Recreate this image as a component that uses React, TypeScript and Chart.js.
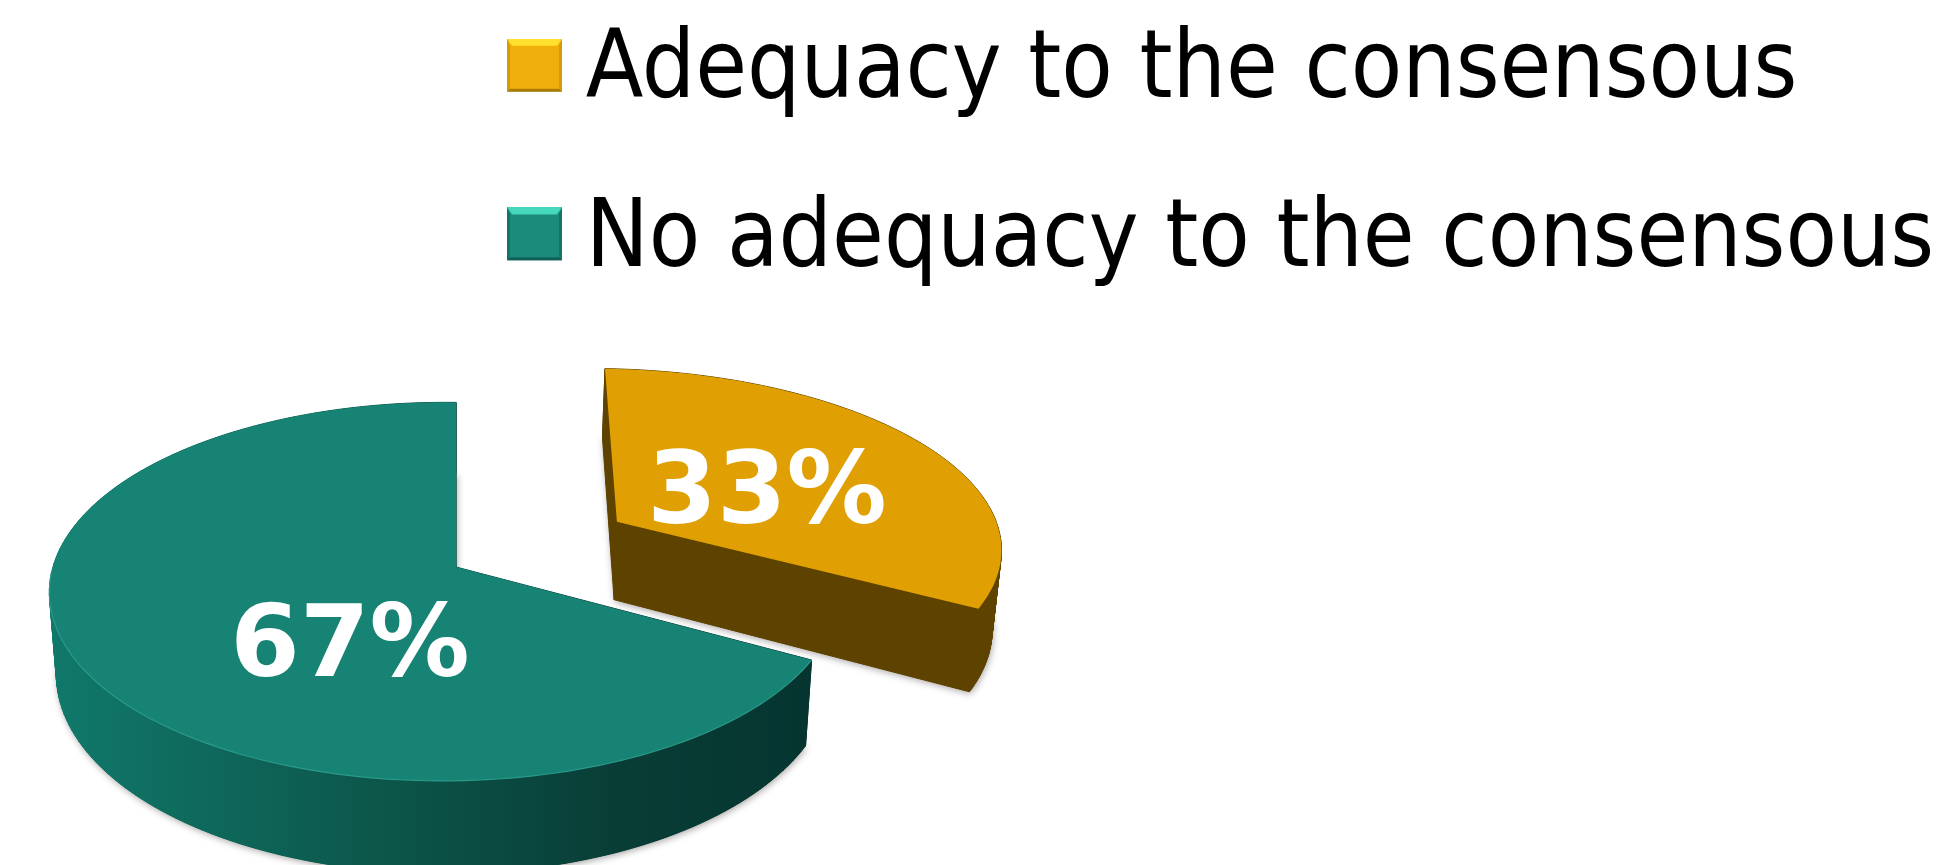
import React, { useEffect, useRef } from "react";
import { Chart, registerables } from "chart.js";

Chart.register(...registerables);

const categories = ["Adequacy to the consensous", "No adequacy to the consensous"];
const shareValues = [33, 67];
const topColors = ["#E0A003", "#178374"];
const sideColors = ["#5E4300", "#0A4A40"];
const legendColors = [
  { base: "#F0AE0C", top: "#FFE02E", edge: "#D49A08", bottom: "#A87A08" },
  { base: "#1B8B7B", top: "#45D8BE", edge: "#147567", bottom: "#0E5F57" },
];
const labelSpots = [
  { x: 767, y: 523 },
  { x: 350, y: 676 },
];

const APEX = { x: 456, y: 567 };
const B = 391, A = 186, K = 0.13, M = 0.03, DEPTH = 80.5, DEPTH_X = 0.983;
const EXPLODE = [0.5, 0];
const STRETCH_U = [1.06, 1];
const SHEAR_U = [0.018, 0];
const LEGEND_FONT = 93.6;

function project(u: number, v: number, bottom: boolean) {
  const d = 1 + K * v + M * u;
  const sx = bottom ? DEPTH_X : 1;
  return {
    x: APEX.x + (sx * B * u) / d,
    y: APEX.y - (A * v) / d + (bottom ? DEPTH / (1 + K * v) : 0),
  };
}

function bevelBox(c: { base: string; top: string; edge: string; bottom: string }) {
  const cv = document.createElement("canvas");
  const w = 55, h = 53, b = 5;
  cv.width = w;
  cv.height = h + 15;
  const g = cv.getContext("2d")!;
  g.fillStyle = c.base;
  g.fillRect(0, 0, w, h);
  const poly = (pts: number[][], fill: string) => {
    g.fillStyle = fill;
    g.beginPath();
    pts.forEach(([x, y], i) => (i ? g.lineTo(x, y) : g.moveTo(x, y)));
    g.closePath();
    g.fill();
  };
  poly([[0, 0], [w, 0], [w - b, b + 2], [b, b + 2]], c.top);
  poly([[0, 0], [b - 2, b + 2], [b - 2, h - 3], [0, h]], c.edge);
  poly([[w, 0], [w - b + 2, b + 2], [w - b + 2, h - 3], [w, h]], c.edge);
  poly([[0, h], [b - 2, h - 3], [w - b + 2, h - 3], [w, h]], c.bottom);
  return cv;
}

const pie3d = {
  id: "pie3d",
  afterLayout(chart: any) {
    chart.legend.left = 455;
    chart.legend.top = -49;
  },
  beforeDatasetDraw(chart: any, args: any) {
    const ctx = chart.ctx;
    const meta = chart.getDatasetMeta(args.index);
    const order = [0, 1];
    order.forEach((i) => {
      const arc = meta.data[i];
      const { startAngle, endAngle } = arc.getProps(["startAngle", "endAngle"], true);
      const mid = (startAngle + endAngle) / 2;
      const ox = Math.cos(mid) * EXPLODE[i];
      const oy = -Math.sin(mid) * EXPLODE[i];
      const outline: number[][] = [[ox, oy]];
      const steps = 160;
      for (let s = 0; s <= steps; s++) {
        const a = startAngle + ((endAngle - startAngle) * s) / steps;
        outline.push([
          ox + STRETCH_U[i] * Math.cos(a) - SHEAR_U[i] * Math.sin(a),
          oy - Math.sin(a),
        ]);
      }
      const trace = (bottom: boolean) => {
        ctx.beginPath();
        outline.forEach(([u, v], n) => {
          const p = project(u, v, bottom);
          n ? ctx.lineTo(p.x, p.y) : ctx.moveTo(p.x, p.y);
        });
        ctx.closePath();
      };
      let side: any = sideColors[i];
      if (i === 1) {
        const g = ctx.createLinearGradient(48, 0, 812, 0);
        g.addColorStop(0, "#10796B");
        g.addColorStop(0.45, "#0C5549");
        g.addColorStop(0.75, "#083D36");
        g.addColorStop(1, "#063530");
        side = g;
      }
      ctx.save();
      ctx.shadowColor = "rgba(60,50,50,0.45)";
      ctx.shadowBlur = 7;
      ctx.shadowOffsetX = 1;
      ctx.shadowOffsetY = 2;
      ctx.fillStyle = side;
      trace(true);
      ctx.fill();
      ctx.restore();
      ctx.fillStyle = side;
      ctx.strokeStyle = side;
      ctx.lineWidth = 1;
      for (let n = 0; n < outline.length; n++) {
        const [u0, v0] = outline[n];
        const [u1, v1] = outline[(n + 1) % outline.length];
        const a = project(u0, v0, false), b = project(u1, v1, false);
        const c = project(u1, v1, true), d = project(u0, v0, true);
        ctx.beginPath();
        ctx.moveTo(a.x, a.y);
        ctx.lineTo(b.x, b.y);
        ctx.lineTo(c.x, c.y);
        ctx.lineTo(d.x, d.y);
        ctx.closePath();
        ctx.fill();
        ctx.stroke();
      }
      ctx.fillStyle = arc.options.backgroundColor;
      trace(false);
      ctx.fill();
      if (i === 1) {
        ctx.strokeStyle = "#2A9A89";
        ctx.lineWidth = 1.2;
        ctx.beginPath();
        outline.slice(1).forEach(([u, v]) => {
          if (v > -0.02) return;
          const p = project(u, v, false);
          ctx.lineTo(p.x, p.y);
        });
        ctx.stroke();
      }
    });
    return false;
  },
  afterDatasetsDraw(chart: any) {
    const ctx = chart.ctx;
    const values = chart.data.datasets[0].data;
    ctx.save();
    ctx.fillStyle = "#FFFFFF";
    ctx.font = "bold 100px 'DejaVu Sans'";
    ctx.textAlign = "center";
    ctx.textBaseline = "alphabetic";
    values.forEach((v: number, i: number) => {
      ctx.fillText(`${v}%`, labelSpots[i].x, labelSpots[i].y);
    });
    ctx.restore();
  },
};

export default function App() {
  const ref = useRef<HTMLCanvasElement>(null);
  useEffect(() => {
    document.body.style.margin = "0";
    document.body.style.overflow = "hidden";
    const chart = new Chart(ref.current!, {
      type: "pie",
      data: {
        labels: categories,
        datasets: [{ data: shareValues, backgroundColor: topColors, borderWidth: 0 }],
      },
      options: {
        animation: false,
        responsive: false,
        devicePixelRatio: 1,
        plugins: {
          tooltip: { enabled: false },
          legend: {
            display: true,
            position: "right",
            align: "start",
            maxWidth: 1490,
            labels: {
              color: "#000000",
              boxWidth: 9,
              padding: 75,
              usePointStyle: true,
              font: { family: "'DejaVu Sans Condensed','DejaVu Sans'", size: LEGEND_FONT },
              generateLabels: () =>
                categories.map((text, i) => ({
                  text,
                  fillStyle: legendColors[i].base,
                  strokeStyle: legendColors[i].base,
                  lineWidth: 0,
                  pointStyle: bevelBox(legendColors[i]),
                  index: i,
                  hidden: false,
                })),
            },
          },
        },
      } as any,
      plugins: [pie3d as any],
    });
    return () => chart.destroy();
  }, []);
  return (
    <div style={{ width: 1945, height: 865, overflow: "hidden", background: "#fff" }}>
      <canvas ref={ref} width={1945} height={865} style={{ display: "block" }} />
    </div>
  );
}
